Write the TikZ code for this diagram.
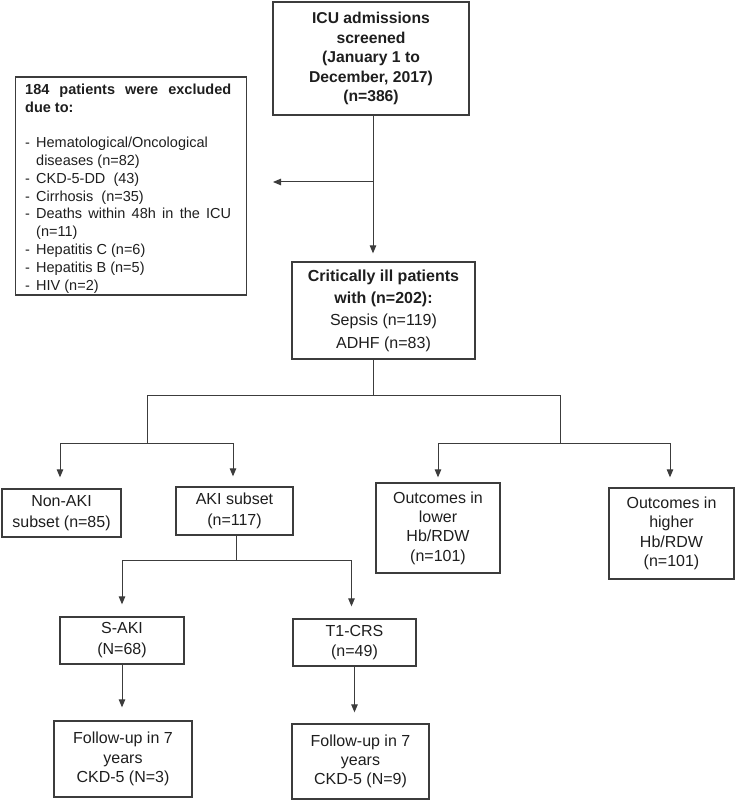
\documentclass[tikz,border=0pt]{standalone}
\usepackage{fontspec}
\setmainfont{Liberation Sans}
\usetikzlibrary{arrows.meta}
\definecolor{ln}{RGB}{60,60,60}
\definecolor{tx}{RGB}{30,30,30}
\newcommand{\dashmark}{\makebox[11pt][l]{-}}
\newcommand{\dashgap}{\hspace*{11pt}}
\begin{document}
\begin{tikzpicture}[x=1pt,y=-1pt,
  box/.style={draw=ln, line width=1.3pt, text=tx, align=center, inner sep=0pt,
    font=\fontsize{16}{20}\selectfont},
  conn/.style={draw=ln, line width=1pt},
  arr/.style={conn, -{Triangle[width=6.5pt,length=8pt]}}]
\useasboundingbox (0,0) rectangle (736,802);

% boxes
\node[box, minimum width=196pt, minimum height=113pt,
  font=\bfseries\fontsize{15.7}{19.5}\selectfont] (top) at (371,58.5)
  {ICU admissions\\screened\\(January 1 to\\December, 2017)\\(n=386)};

\node[box, minimum width=231pt, minimum height=218pt] (excl) at (131,186) {};
\node[anchor=north west, inner sep=0pt, align=left, text=tx,
  font=\fontsize{14.5}{17.8}\selectfont] (excltext) at (25,83.5)
  {\makebox[206pt][s]{\bfseries 184 patients were excluded}\\
   \textbf{due to:}\\[17.8pt]
   \dashmark Hematological/Oncological\\
   \dashgap diseases (n=82)\\
   \dashmark CKD-5-DD\ \ (43)\\
   \dashmark Cirrhosis\ \ (n=35)\\
   \dashmark \makebox[195pt][s]{Deaths within 48h in the ICU}\\
   \dashgap (n=11)\\
   \dashmark Hepatitis C (n=6)\\
   \dashmark Hepatitis B (n=5)\\
   \dashmark HIV (n=2)};

\node[box, minimum width=183pt, minimum height=97pt,
  font=\fontsize{16}{22.3}\selectfont] (crit) at (383.5,310.5)
  {\textbf{Critically ill patients}\\\textbf{with (n=202):}\\Sepsis (n=119)\\ADHF (n=83)};

\node[box, minimum width=119pt, minimum height=48pt, font=\fontsize{16}{21}\selectfont]
  (nonaki) at (61.5,513) {Non-AKI\\subset (n=85)};
\node[box, minimum width=117pt, minimum height=48pt, font=\fontsize{16}{21}\selectfont]
  (aki) at (234.5,511) {AKI subset\\(n=117)};
\node[box, minimum width=124pt, minimum height=90pt, font=\fontsize{16}{19.4}\selectfont]
  (lower) at (438,528) {Outcomes in\\lower\\Hb/RDW\\(n=101)};
\node[box, minimum width=125pt, minimum height=91pt, font=\fontsize{16}{19.4}\selectfont]
  (higher) at (671.5,533.5) {Outcomes in\\higher\\Hb/RDW\\(n=101)};
\node[box, minimum width=124pt, minimum height=47pt, font=\fontsize{16}{21}\selectfont]
  (saki) at (122,640.5) {S-AKI\\(N=68)};
\node[box, minimum width=123pt, minimum height=47pt, font=\fontsize{16}{20}\selectfont]
  (t1crs) at (354.5,642.5) {T1-CRS\\(n=49)};
\node[box, minimum width=138pt, minimum height=76pt, font=\fontsize{16}{19.2}\selectfont]
  (fu1) at (123,759) {Follow-up in 7\\years\\CKD-5 (N=3)};
\node[box, minimum width=137pt, minimum height=75pt, font=\fontsize{16}{19.2}\selectfont]
  (fu2) at (360.5,761.5) {Follow-up in 7\\years\\CKD-5 (N=9)};

% connectors
\coordinate (j1) at (373,182);
\coordinate (xtip) at (273,182);
\draw[arr, shorten >=8pt] (top.south -| j1) -- (j1 |- crit.north);
\draw[arr] (j1) -- (xtip);

\coordinate (b0) at (373,395);
\coordinate (bl) at (147,395);
\coordinate (br) at (560,395);
\coordinate (bl2) at (147,443);
\coordinate (br2) at (560,443);
\draw[conn] (crit.south -| b0) -- (b0);
\draw[conn] (bl) -- (br);
\draw[conn] (bl) -- (bl2);
\draw[conn] (br) -- (br2);
\draw[conn] ([xshift=-1.5pt]nonaki.north |- bl2) -- ([xshift=-1.5pt]aki.north |- bl2);
\draw[arr, shorten >=11pt] ([xshift=-1.5pt]nonaki.north |- bl2) -- ([xshift=-1.5pt]nonaki.north);
\draw[arr, shorten >=10pt] ([xshift=-1.5pt]aki.north |- bl2) -- ([xshift=-1.5pt]aki.north);
\draw[conn] (lower.north |- br2) -- ([xshift=-1.5pt]higher.north |- br2);
\draw[arr, shorten >=5pt] (lower.north |- br2) -- (lower.north);
\draw[arr, shorten >=10pt] ([xshift=-1.5pt]higher.north |- br2) -- ([xshift=-1.5pt]higher.north);

\coordinate (a1) at (236,560);
\draw[conn] ([xshift=1.5pt]aki.south) -- ([xshift=1.5pt]aki.south |- a1);
\draw[conn] (saki.north |- a1) -- ([xshift=-3pt]t1crs.north |- a1);
\draw[arr, shorten >=12pt] (saki.north |- a1) -- (saki.north);
\draw[arr, shorten >=12pt] ([xshift=-3pt]t1crs.north |- a1) -- ([xshift=-3pt]t1crs.north);
\draw[arr, shorten >=13pt] (saki.south) -- (saki.south |- fu1.north);
\draw[arr, shorten >=11pt] (t1crs.south) -- (t1crs.south |- fu2.north);
\end{tikzpicture}
\end{document}
